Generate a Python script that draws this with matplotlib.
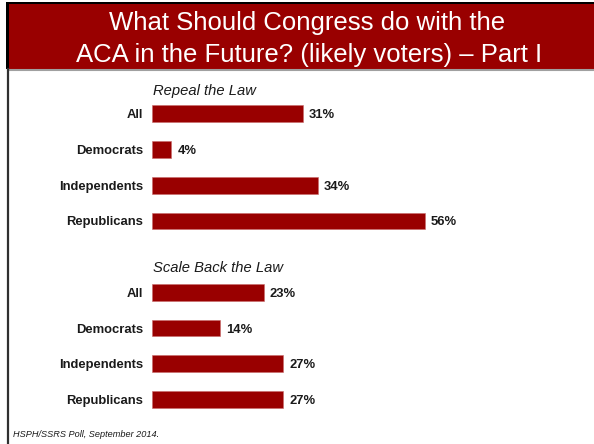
import matplotlib
matplotlib.use("Agg")
import matplotlib.pyplot as plt
from matplotlib.patches import Rectangle
from matplotlib.lines import Line2D

plt.rcParams['font.family'] = ['Liberation Sans', 'DejaVu Sans']

# data
groups = ["All", "Democrats", "Independents", "Republicans"]
repeal = [31, 4, 34, 56]
scale_back = [23, 14, 27, 27]
panel_titles = ["Repeal the Law", "Scale Back the Law"]
title_lines = ["What Should Congress do with the",
               "ACA in the Future? (likely voters) \u2013 Part I"]
source = "HSPH/SSRS Poll, September 2014."

W, H = 594, 444
BAR_RED = "#990000"


def fx(x):
    return x / W


def fy(y):
    return 1 - y / H


fig = plt.figure(figsize=(W / 100, H / 100), dpi=100)

# header band and frame
fig.patches.append(Rectangle((fx(9), fy(69)), fx(W - 9), 65 / H, transform=fig.transFigure,
                             facecolor=BAR_RED, edgecolor="none"))
fig.patches.append(Rectangle((fx(6), fy(69)), 3 / W, 66 / H, transform=fig.transFigure,
                             facecolor="black", edgecolor="none"))
fig.patches.append(Rectangle((fx(6), fy(4)), fx(W - 6), 1.5 / H, transform=fig.transFigure,
                             facecolor="black", edgecolor="none"))
fig.lines.append(Line2D([fx(9), 1], [fy(70), fy(70)], transform=fig.transFigure,
                        color="#a0a0a0", lw=1.5))
fig.lines.append(Line2D([fx(8), fx(8)], [fy(69), 0], transform=fig.transFigure,
                        color="#303030", lw=1.6))

fig.text(fx(307), fy(30), title_lines[0], color="white", fontsize=18.5,
         ha="center", va="baseline")
fig.text(fx(309), fy(62), title_lines[1], color="white", fontsize=18.5,
         ha="center", va="baseline")

# two bar panels
spacing = 35.7
ax_h = 4 * spacing
px_per_pct = 4.87
ax_left = 152
xmax = (W - ax_left) / px_per_pct

panels = [(repeal, 96.0, 95.0), (scale_back, 274.5, 271.5)]
for i, (vals, top, title_y) in enumerate(panels):
    ax = fig.add_axes([fx(ax_left), fy(top + ax_h), fx(W - ax_left), ax_h / H])
    ypos = list(range(len(groups)))
    bars = ax.barh(ypos, vals, height=0.47, color=BAR_RED, edgecolor="#c86a6a", linewidth=0.4)
    ax.set_xlim(0, xmax)
    ax.set_ylim(len(groups) - 0.5, -0.5)
    ax.set_yticks(ypos)
    ax.set_yticklabels(groups, fontsize=9.4, fontweight="bold", color="#1a1a1a")
    ax.tick_params(axis="y", length=0, pad=6.3)
    ax.set_xticks([])
    for s in ax.spines.values():
        s.set_visible(False)
    ax.patch.set_alpha(0)
    labels = ax.bar_label(bars, labels=[f"{v}%" for v in vals], padding=4.3,
                          fontsize=9.4, fontweight="bold", color="#1a1a1a")
    for t in labels:
        t.set_va("center_baseline")
    fig.text(fx(153), fy(title_y), panel_titles[i], fontsize=10.6, style="italic",
             color="#1a1a1a", ha="left", va="baseline")

fig.text(fx(13), fy(437), source, fontsize=6.6, style="italic", color="#1a1a1a",
         ha="left", va="baseline")

fig.savefig("out.png", dpi=100)
